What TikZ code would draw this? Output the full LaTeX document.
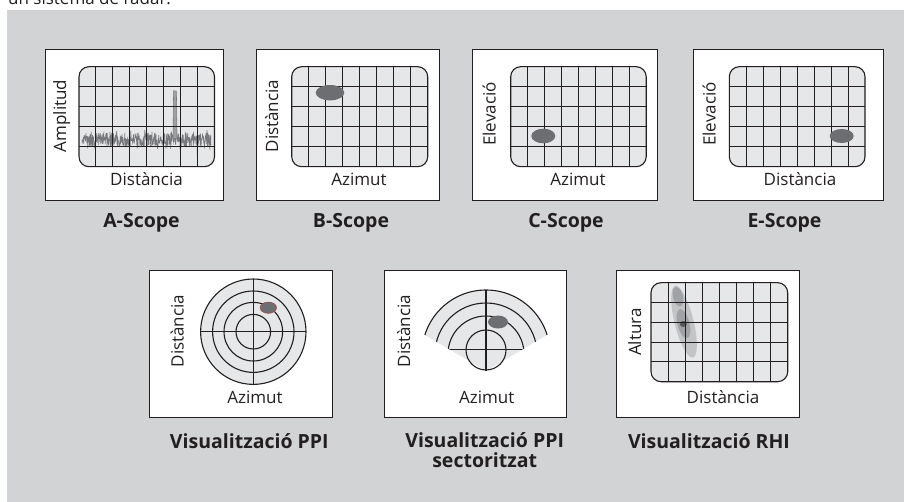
\documentclass[tikz,border=0pt]{standalone}
\usepackage{fontspec}
\setmainfont{Open Sans}
\definecolor{bg}{HTML}{D1D3D4}
\definecolor{gridfill}{HTML}{E6E7E8}
\definecolor{ink}{HTML}{231F20}
\definecolor{blobdark}{HTML}{6D6E71}
\definecolor{sig}{HTML}{77787B}
\definecolor{blobA}{HTML}{C2C4C6}
\definecolor{blobB}{HTML}{A0A2A5}
\definecolor{blobC}{HTML}{58595B}
\newcommand\ScopeGrid[5]{%
 \begin{scope}[shift={(#1,#2)}]
  \fill[gridfill, rounded corners=10pt] (0,0) rectangle (#3,#4);
  #5
  \foreach \i in {1,...,7} \draw[gridline] ({\i*#3/8},0) -- ({\i*#3/8},#4);
  \foreach \j in {1,...,4} \draw[gridline] (0,{\j*#4/5}) -- (#3,{\j*#4/5});
  \draw[gridline, rounded corners=10pt] (0,0) rectangle (#3,#4);
 \end{scope}}
\begin{document}
\begin{tikzpicture}[x=1pt,y=-1pt,
  panel/.style={draw=ink, fill=white, line width=0.9pt},
  gridline/.style={draw=ink, line width=1.1pt},
  signal/.style={draw=sig, line width=0.55pt},
  axlabel/.style={font=\fontsize{17}{20}\selectfont, text=ink, inner sep=0pt},
  vlabel/.style={axlabel, rotate=90, anchor=base},
  hlabel/.style={axlabel, anchor=base},
  title/.style={font=\bfseries\fontsize{19.5}{19.5}\selectfont, text=ink, inner sep=0pt, align=center, anchor=base},
  spot/.style={fill=blobdark}
]
\useasboundingbox (0,0) rectangle (904,502);
\fill[bg] (7,10) rectangle (904,502);
\node[hlabel, anchor=base west] (toptext) at (8,4.5) {un sistema de radar.};

% ---------- A-Scope ----------
\draw[panel] (45,49.5) rectangle (223,200);
\ScopeGrid{79}{66.7}{135.5}{100}{%
  \pgfmathsetseed{12}
  \draw[signal] plot[domain=3:132, samples=480, variable=\t] (\t, {73+7*rand+4*rand^3});
  \draw[signal, fill=sig!70] (94,72) -- (94.6,24) -- (97.4,24.5) -- (98,72) -- cycle;
  \draw[signal] (118,72) -- (118.3,91) -- (118.6,72);
}
\node[vlabel] (a-y) at (66,116) {Amplitud};
\node[hlabel] (a-x) at (146.5,185.7) {Distància};
\node[title] (a-t) at (141.5,228) {A-Scope};

% ---------- B-Scope ----------
\draw[panel] (256,49.5) rectangle (439,200);
\ScopeGrid{291.7}{66.7}{136}{100}{}
\fill[spot] (330,92.7) ellipse (14.3 and 7.7);
\node[vlabel] (b-y) at (278,116) {Distància};
\node[hlabel] (b-x) at (359,185.7) {Azimut};
\node[title] (b-t) at (351,228) {B-Scope};

% ---------- C-Scope ----------
\draw[panel] (472,49.5) rectangle (657,200);
\ScopeGrid{510.7}{66.7}{135.5}{100}{}
\fill[spot] (543.3,136) ellipse (12 and 7.3);
\node[vlabel] (c-y) at (495.7,114) {Elevació};
\node[hlabel] (c-x) at (578,185.7) {Azimut};
\node[title] (c-t) at (566,228) {C-Scope};

% ---------- E-Scope ----------
\draw[panel] (693,49.5) rectangle (883,200);
\ScopeGrid{729.3}{66.7}{135.7}{100}{}
\fill[spot] (841.7,136) ellipse (12 and 7);
\node[vlabel] (e-y) at (715.7,114) {Elevació};
\node[hlabel] (e-x) at (800,185.7) {Distància};
\node[title] (e-t) at (784.5,228) {E-Scope};

% ---------- PPI ----------
\draw[panel] (149.3,270) rectangle (332.7,417.7);
\fill[gridfill] (253.3,331.7) circle (52.7);
\foreach \r in {17.3,29.3,40.7,52.7} \draw[gridline] (253.3,331.7) circle (\r);
\draw[gridline] (200.6,331.7) -- (306,331.7);
\draw[gridline] (253.3,279) -- (253.3,384.4);
\fill[spot, draw=red!40!blobdark, line width=0.4pt] (268.3,307.7) ellipse (8.3 and 5.7);
\node[vlabel] (p-y) at (183.7,331) {Distància};
\node[hlabel] (p-x) at (255,403.3) {Azimut};
\node[title] (p-t) at (249.3,448.3) {Visualització PPI};

% ---------- Sector PPI ----------
\draw[panel] (384,270) rectangle (566.7,417.7);
\begin{scope}
  \clip (486,371) -- (311.6,268) -- (311.6,200) -- (660.4,200) -- (660.4,268) -- cycle;
  \fill[gridfill] (486,354) circle (64);
  \foreach \r in {38,51,64} \draw[gridline] (486,354) circle (\r);
  \draw[gridline] (440,349.3) -- (532,349.3);
\end{scope}
\draw[gridline] (486,350) circle (20);
\draw[gridline] (486,290) -- (486,371);
\fill[spot] (498,322) ellipse (10 and 6.5);
\node[vlabel] (s-y) at (410,331) {Distància};
\node[hlabel] (s-x) at (486.7,403.3) {Azimut};
\node[title] (s-t) at (484.7,467.3) {Visualització PPI\\sectoritzat};

% ---------- RHI ----------
\draw[panel] (616,270) rectangle (799.3,417.7);
\ScopeGrid{651}{282.7}{136.7}{99}{%
  \fill[blobA, rotate around={-76:(33,39)}] (33,39) ellipse (37 and 9.5);
  \fill[blobB, rotate around={-76:(27,14)}] (27,14) ellipse (10 and 5);
  \fill[blobB, rotate around={-76:(32.5,41)}] (32.5,41) ellipse (15 and 6);
  \fill[blobC] (32.3,41.3) ellipse (3.5 and 3);
}
\node[vlabel] (r-y) at (641,332) {Altura};
\node[hlabel] (r-x) at (723,403.3) {Distància};
\node[title] (r-t) at (709,448.3) {Visualització RHI};
\end{tikzpicture}
\end{document}
